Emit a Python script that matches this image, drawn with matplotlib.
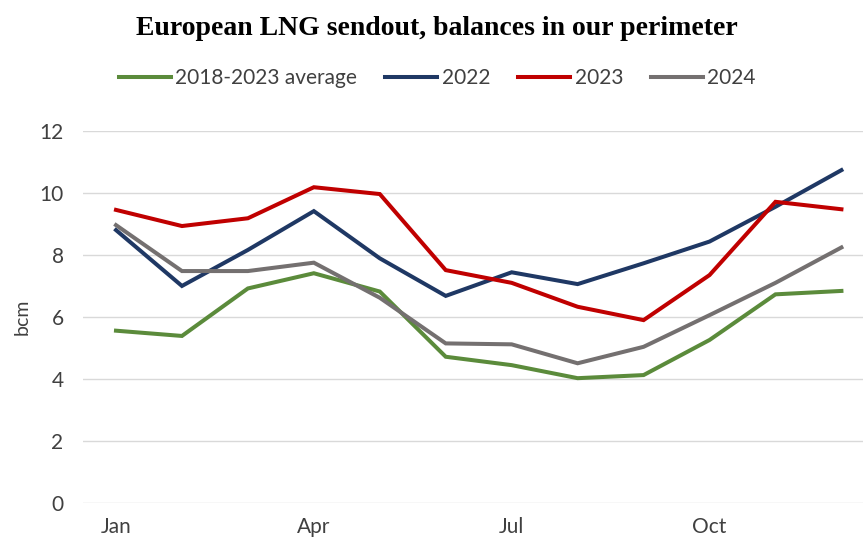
import matplotlib.pyplot as plt
import numpy as np

plt.rcParams['font.family'] = ['Lato', 'DejaVu Sans']

months = ['Jan', 'Feb', 'Mar', 'Apr', 'May', 'Jun', 'Jul', 'Aug', 'Sep', 'Oct', 'Nov', 'Dec']
tick_months = ['Jan', 'Apr', 'Jul', 'Oct']

avg_2018_2023 = [5.56, 5.39, 6.92, 7.41, 6.82, 4.72, 4.45, 4.03, 4.13, 5.26, 6.73, 6.84]
y2022 = [8.80, 7.00, 8.16, 9.41, 7.89, 6.68, 7.44, 7.06, 7.73, 8.43, 9.55, 10.73]
y2023 = [9.45, 8.93, 9.18, 10.18, 9.96, 7.51, 7.10, 6.33, 5.90, 7.35, 9.71, 9.47]
y2024 = [8.96, 7.48, 7.48, 7.75, 6.62, 5.15, 5.12, 4.51, 5.04, 6.06, 7.10, 8.24]

series = [
    ('2018-2023 average', avg_2018_2023, '#5b8b3b'),
    ('2022', y2022, '#1f3864'),
    ('2023', y2023, '#c00000'),
    ('2024', y2024, '#747070'),
]

fig = plt.figure(figsize=(8.63, 5.39), dpi=100)
ax = fig.add_axes([0.0962, 0.0662, 0.917, 0.6913])

xs = np.arange(len(months))
lines = []
for label, vals, color in series:
    ln = ax.plot(xs, vals, color=color, lw=2.9, label=label, solid_joinstyle='miter')[0]
    lines.append(ln)

ax.set_xlim(-0.5, 11.5)
ax.set_ylim(0, 12)
ax.set_yticks(range(0, 13, 2))
ax.set_xticks([months.index(m) for m in tick_months])
ax.set_xticklabels(tick_months)
ax.tick_params(axis='both', length=0, labelsize=15, labelcolor='#404040')
ax.tick_params(axis='y', pad=14)
ax.tick_params(axis='x', pad=10)
ax.grid(axis='y', color='#d9d9d9', lw=1)
ax.set_axisbelow(True)
for s in ax.spines.values():
    s.set_visible(False)
ax.set_ylabel('bcm', fontsize=14, color='#404040', labelpad=6)

fig.text(0.506, 0.948, 'European LNG sendout, balances in our perimeter',
         ha='center', va='center', fontsize=20, fontweight='bold',
         family='Liberation Serif')

fig.legend(lines, [s[0] for s in series], loc='center', bbox_to_anchor=(0.507, 0.855),
           ncol=4, frameon=False, fontsize=15, handlelength=2.5, handletextpad=0.2,
           columnspacing=1.35, labelcolor='#404040')

fig.savefig('out.png', dpi=100)
